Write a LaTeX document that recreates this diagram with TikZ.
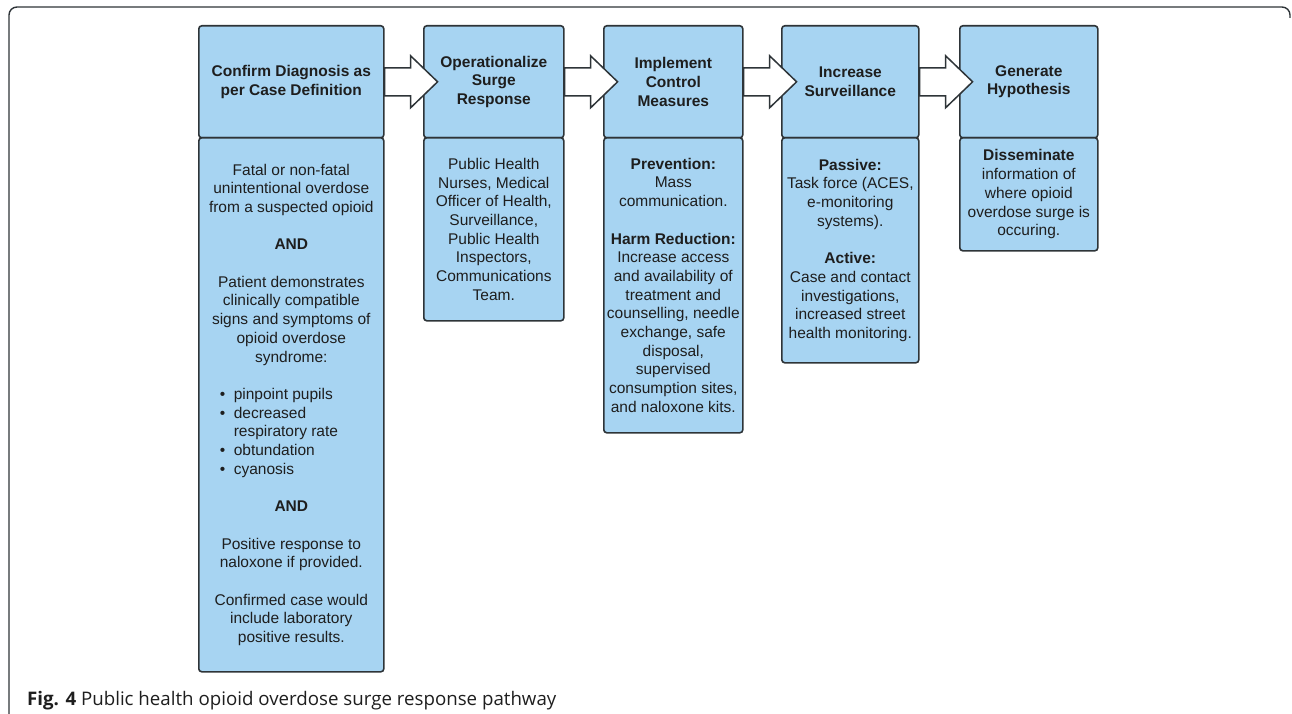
\documentclass[tikz,border=0pt]{standalone}
\usepackage{fontspec}
\usetikzlibrary{calc}
\setmainfont{Liberation Sans}
\newfontfamily\capfont{Open Sans}
\definecolor{boxfill}{HTML}{A7D4F2}
\definecolor{boxline}{HTML}{2E3438}
\definecolor{txt}{HTML}{1E1E1E}
\newcommand{\blk}{\\[18.7pt]}
\newcommand{\bul}[1]{\makebox[185pt][l]{\hspace*{21pt}\makebox[14pt][l]{•}#1}}
\newcommand{\bulc}[1]{\makebox[185pt][l]{\hspace*{35pt}#1}}
\begin{document}
\begin{tikzpicture}[x=1pt,y=-1pt,
  box/.style={draw=boxline, fill=boxfill, line width=1.6pt, rounded corners=3pt,
    inner xsep=0pt, inner ysep=0pt, align=center, text=txt, anchor=north west,
    font=\fontsize{15.5}{18.7}\selectfont},
  hdr/.style={box, font=\bfseries\fontsize{15.5}{18.7}\selectfont, minimum height=112pt},
  blockarrow/.style={draw=boxline, fill=white, line width=1.5pt, line join=miter},
  frame/.style={draw=boxline, line width=1.4pt, rounded corners=8pt}]
\useasboundingbox (0,0) rectangle (1292,714);
\draw[frame] (9,716) -- (9,7) -- (1290,7) -- (1290,18);

% headers
\node[hdr, minimum width=185pt] (h1) at (198,25) {Confirm Diagnosis as\\per Case Definition};
\node[hdr, minimum width=140pt] (h2) at (423,25) {Operationalize\\Surge\\Response};
\node[hdr, minimum width=139pt] (h3) at (603,25) {Implement\\Control\\Measures};
\node[hdr, minimum width=137pt] (h4) at (781,25) {Increase\\Surveillance};
\node[hdr, minimum width=138pt] (h5) at (959,25) {Generate\\Hypothesis};

% bodies
\node[box, minimum width=185pt, minimum height=534pt] (b1) at (198,137) {Fatal or non-fatal\\unintentional overdose\\from a suspected opioid\blk
\textbf{AND}\blk
Patient demonstrates\\clinically compatible\\signs and symptoms of\\opioid overdose\\syndrome:\blk
\bul{pinpoint pupils}\\\bul{decreased}\\\bulc{respiratory rate}\\\bul{obtundation}\\\bul{cyanosis}\blk
\textbf{AND}\blk
Positive response to\\naloxone if provided.\blk
Confirmed case would\\include laboratory\\positive results.};
\node[box, minimum width=140pt, minimum height=183pt] (b2) at (423,137) {Public Health\\Nurses, Medical\\Officer of Health,\\Surveillance,\\Public Health\\Inspectors,\\Communications\\Team.};
\node[box, minimum width=139pt, minimum height=295pt] (b3) at (603,137) {\textbf{Prevention:}\\Mass\\communication.\blk
\textbf{Harm Reduction:}\\Increase access\\and availability of\\treatment and\\counselling, needle\\exchange, safe\\disposal,\\supervised\\consumption sites,\\and naloxone kits.};
\node[box, minimum width=137pt, minimum height=225pt] (b4) at (781,137) {\textbf{Passive:}\\Task force (ACES,\\e-monitoring\\systems).\blk
\textbf{Active:}\\Case and contact\\investigations,\\increased street\\health monitoring.};
\node[box, minimum width=138pt, minimum height=113pt] (b5) at (959,137) {\textbf{Disseminate}\\information of\\where opioid\\overdose surge is\\occuring.};

% block arrows
\foreach \a/\b in {h1/h2,h2/h3,h3/h4,h4/h5}{
  \draw[blockarrow] ($(\a.east)+(0,-14)$) -- ++(26,0) -- ++(0,-12) -- ++(27,26)
    -- ++(-27,26) -- ++(0,-12) -- ++(-26,0) -- cycle;
}

\node[anchor=base west, inner sep=0pt, text=txt, font=\capfont\fontsize{18.7}{21}\selectfont] (cap) at (27,705)
  {\textbf{Fig. 4} Public health opioid overdose surge response pathway};
\end{tikzpicture}
\end{document}
